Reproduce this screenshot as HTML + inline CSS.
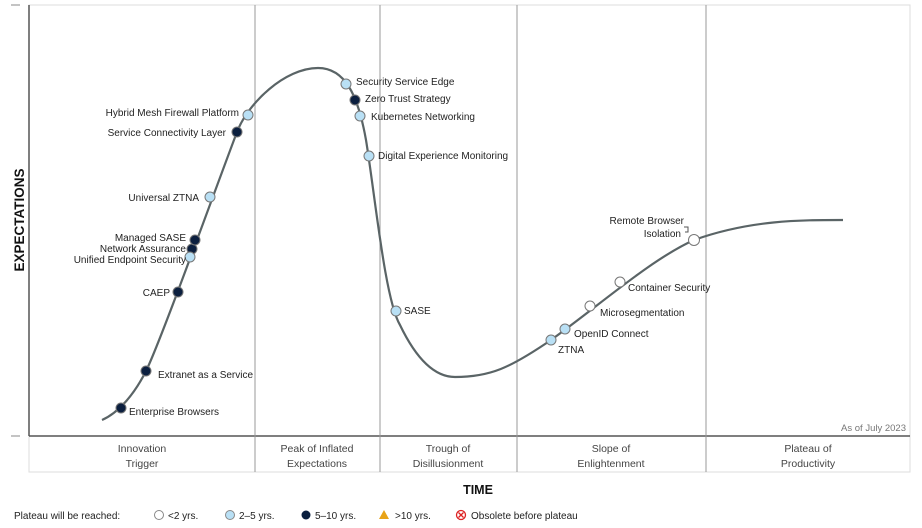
<!DOCTYPE html>
<html><head><style>
body{margin:0;background:#fff;}
svg{display:block;font-family:"Liberation Sans",sans-serif;}
</style></head><body>
<svg width="922" height="528" viewBox="0 0 922 528">
<rect x="29" y="5" width="881" height="431" fill="#fff" stroke="#ddd"/>
<rect x="29" y="436" width="881" height="36" fill="#fff" stroke="#ddd"/>
<line x1="29" y1="5" x2="29" y2="436" stroke="#555" stroke-width="1.5"/>
<line x1="29" y1="436" x2="910" y2="436" stroke="#555" stroke-width="1.5"/>
<line x1="11" y1="5" x2="20" y2="5" stroke="#888"/>
<line x1="11" y1="436" x2="20" y2="436" stroke="#888"/>
<g stroke="#999" stroke-width="1">
<line x1="255" y1="5" x2="255" y2="472"/>
<line x1="380" y1="5" x2="380" y2="472"/>
<line x1="517" y1="5" x2="517" y2="472"/>
<line x1="706" y1="5" x2="706" y2="472"/>
</g>
<path d="M102,420 C118,413 134,395 146,371 C160,343 215,190 237,132 C248,103 285,68 318,68 C345,68 358,95 366,140 C375,195 385,300 400,325 C412,350 430,377 455,377 C490,377 510,368 551,340 C600,305 650,260 694,240 C750,220 800,220 843,220" fill="none" stroke="#5a6466" stroke-width="2.2"/>
<g stroke="#777" stroke-width="1">
<g fill="#0b1f3f">
<circle cx="121" cy="408" r="5"/><circle cx="146" cy="371" r="5"/><circle cx="178" cy="292" r="5"/>
<circle cx="192" cy="249" r="5"/><circle cx="195" cy="240" r="5"/><circle cx="237" cy="132" r="5"/>
<circle cx="355" cy="100" r="5"/>
</g>
<g fill="#b9e0f5">
<circle cx="190" cy="257" r="5"/><circle cx="210" cy="197" r="5"/><circle cx="248" cy="115" r="5"/>
<circle cx="346" cy="84" r="5"/><circle cx="360" cy="116" r="5"/><circle cx="369" cy="156" r="5"/>
<circle cx="396" cy="311" r="5"/><circle cx="551" cy="340" r="5"/><circle cx="565" cy="329" r="5"/>
</g>
<g fill="#fff">
<circle cx="590" cy="306" r="5"/><circle cx="620" cy="282" r="5"/><circle cx="694" cy="240" r="5.5"/>
</g>
</g>
<path d="M685,232 L688,232 L688,227 L684,227" fill="none" stroke="#555"/>
<g font-size="10" fill="#222">
<text x="129" y="415">Enterprise Browsers</text>
<text x="158" y="378">Extranet as a Service</text>
<text x="170" y="296" text-anchor="end">CAEP</text>
<text x="186" y="263" text-anchor="end">Unified Endpoint Security</text>
<text x="186" y="252" text-anchor="end">Network Assurance</text>
<text x="186" y="241" text-anchor="end">Managed SASE</text>
<text x="199" y="201" text-anchor="end">Universal ZTNA</text>
<text x="226" y="136" text-anchor="end">Service Connectivity Layer</text>
<text x="239" y="116" text-anchor="end">Hybrid Mesh Firewall Platform</text>
<text x="356" y="85">Security Service Edge</text>
<text x="365" y="102">Zero Trust Strategy</text>
<text x="371" y="120">Kubernetes Networking</text>
<text x="378" y="159">Digital Experience Monitoring</text>
<text x="404" y="314">SASE</text>
<text x="558" y="353">ZTNA</text>
<text x="574" y="337">OpenID Connect</text>
<text x="600" y="316">Microsegmentation</text>
<text x="628" y="291">Container Security</text>
<text x="684" y="224" text-anchor="end">Remote Browser</text>
<text x="681" y="237" text-anchor="end">Isolation</text>
<text x="906" y="431" text-anchor="end" fill="#777" font-size="9.5">As of July 2023</text>
</g>
<g font-size="10.5" fill="#444" text-anchor="middle">
<text x="142" y="452">Innovation</text><text x="142" y="467">Trigger</text>
<text x="317" y="452">Peak of Inflated</text><text x="317" y="467">Expectations</text>
<text x="448" y="452">Trough of</text><text x="448" y="467">Disillusionment</text>
<text x="611" y="452">Slope of</text><text x="611" y="467">Enlightenment</text>
<text x="808" y="452">Plateau of</text><text x="808" y="467">Productivity</text>
</g>
<text x="478" y="494" font-size="12.5" font-weight="bold" text-anchor="middle" fill="#111">TIME</text>
<text transform="translate(24,220) rotate(-90)" font-size="13.5" font-weight="bold" text-anchor="middle" fill="#111">EXPECTATIONS</text>
<g font-size="10" fill="#222">
<text x="14" y="519">Plateau will be reached:</text>
<circle cx="159" cy="515" r="4.5" fill="#fff" stroke="#888"/><text x="168" y="519">&lt;2 yrs.</text>
<circle cx="230" cy="515" r="4.5" fill="#b9e0f5" stroke="#888"/><text x="239" y="519">2–5 yrs.</text>
<circle cx="306" cy="515" r="4.5" fill="#0b1f3f"/><text x="315" y="519">5–10 yrs.</text>
<polygon points="384,510 389,519 379,519" fill="#e8a317"/><text x="395" y="519">&gt;10 yrs.</text>
<circle cx="461" cy="515" r="4.5" fill="#fff" stroke="#d22" stroke-width="1.3"/>
<path d="M458.5,512.5 L463.5,517.5 M463.5,512.5 L458.5,517.5" stroke="#d22" stroke-width="1.3"/>
<text x="471" y="519">Obsolete before plateau</text>
</g>
</svg>
</body></html>
